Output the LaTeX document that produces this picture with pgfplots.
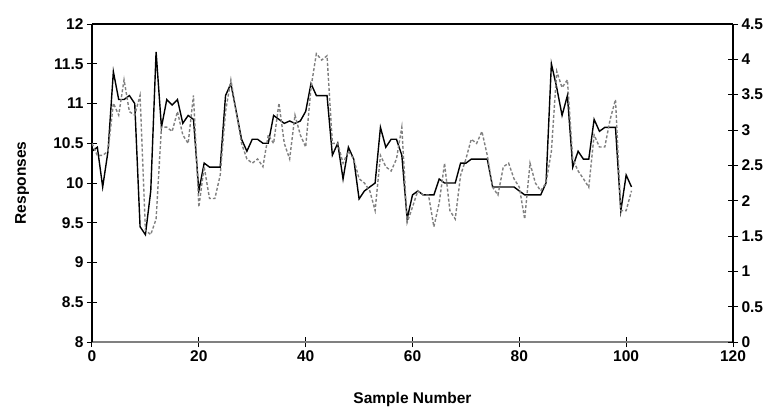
\documentclass[border=0pt]{standalone}
\usepackage{pgfplots}
\pgfplotsset{compat=1.18}
\usepackage{fontspec}
\setmainfont{Liberation Sans}
\newcommand{\lbl}{\bfseries\fontsize{15.5}{15.5}\selectfont}

\pgfplotsset{
  common/.style={
    width=641pt, height=318pt, scale only axis,
    xmin=0, xmax=120,
    enlargelimits=false,
    tick align=center,
    major tick length=10pt,
    tick style={black, line width=1pt},
    tick label style={font=\lbl},
    /pgf/number format/assume math mode=true,
    label style={font=\lbl},
  },
}

\begin{document}
\begin{tikzpicture}
\useasboundingbox (-92pt,-74pt) rectangle (684pt,342pt);

% left axis: solid series
\begin{axis}[common,
    axis x line*=bottom, axis y line*=left,
    axis line style={-},
    x axis line style={gray, line width=1.3pt},
    y axis line style={black, line width=1.3pt},
    ymin=8, ymax=12,
    xtick={0,20,...,120},
    ytick={8,8.5,...,12},
    xlabel={Sample Number},
    ylabel={Responses},
    xlabel style={at={(axis description cs:0.5,-0.182)}, anchor=center},
    ylabel style={at={(axis description cs:-0.109,0.5)}, anchor=center},
]
\addplot[black, line width=1.4pt] coordinates {
 (0,10.4) (1,10.45) (2,9.95) (3,10.4) (4,11.4) (5,11.05) (6,11.05) (7,11.1)
 (8,11.0) (9,9.45) (10,9.35) (11,9.9) (12,11.65) (13,10.7) (14,11.05) (15,10.98)
 (16,11.05) (17,10.75) (18,10.85) (19,10.8) (20,9.9) (21,10.25) (22,10.2) (23,10.2)
 (24,10.2) (25,11.1) (26,11.25) (27,10.9) (28,10.55) (29,10.4) (30,10.55) (31,10.55)
 (32,10.5) (33,10.5) (34,10.85) (35,10.8) (36,10.75) (37,10.78) (38,10.75) (39,10.78)
 (40,10.9) (41,11.25) (42,11.1) (43,11.1) (44,11.1) (45,10.35) (46,10.5) (47,10.05)
 (48,10.45) (49,10.3) (50,9.8) (51,9.9) (52,9.95) (53,10.0) (54,10.7) (55,10.45)
 (56,10.55) (57,10.55) (58,10.35) (59,9.55) (60,9.85) (61,9.9) (62,9.85) (63,9.85)
 (64,9.85) (65,10.05) (66,10.0) (67,10.0) (68,10.0) (69,10.25) (70,10.25) (71,10.3)
 (72,10.3) (73,10.3) (74,10.3) (75,9.95) (76,9.95) (77,9.95) (78,9.95) (79,9.95)
 (80,9.9) (81,9.85) (82,9.85) (83,9.85) (84,9.85) (85,10.0) (86,11.5) (87,11.2)
 (88,10.85) (89,11.1) (90,10.2) (91,10.4) (92,10.3) (93,10.3) (94,10.8) (95,10.65)
 (96,10.7) (97,10.7) (98,10.7) (99,9.65) (100,10.1) (101,9.95)
};
\end{axis}

% right axis: dashed series
\begin{axis}[common,
    axis x line*=top, axis y line*=right,
    axis line style={-, black, line width=1.3pt},
    xtick=\empty,
    ymin=0, ymax=4.5,
    ytick={0,0.5,...,4.5},
    yticklabel style={/pgf/number format/fixed},
]
\addplot[gray, line width=1.4pt, dash pattern=on 3pt off 2pt] coordinates {
 (0,2.81) (1,2.64) (2,2.64) (3,2.70) (4,3.38) (5,3.21) (6,3.71) (7,3.26)
 (8,3.21) (9,3.49) (10,1.58) (11,1.52) (12,1.74) (13,3.04) (14,3.04) (15,2.98)
 (16,3.26) (17,2.93) (18,2.81) (19,3.49) (20,1.91) (21,2.48) (22,2.03) (23,2.03)
 (24,2.36) (25,3.26) (26,3.71) (27,3.26) (28,2.81) (29,2.59) (30,2.53) (31,2.59)
 (32,2.48) (33,2.93) (34,2.81) (35,3.38) (36,2.81) (37,2.59) (38,3.21) (39,2.93)
 (40,2.76) (41,3.60) (42,4.08) (43,3.99) (44,4.05) (45,2.81) (46,2.81) (47,2.53)
 (48,2.70) (49,2.59) (50,2.31) (51,2.25) (52,2.14) (53,1.86) (54,2.64) (55,2.48)
 (56,2.42) (57,2.59) (58,3.04) (59,1.69) (60,1.91) (61,2.14) (62,2.08) (63,2.08)
 (64,1.63) (65,1.97) (66,2.53) (67,1.86) (68,1.74) (69,2.36) (70,2.59) (71,2.87)
 (72,2.81) (73,2.98) (74,2.64) (75,2.19) (76,2.08) (77,2.48) (78,2.53) (79,2.31)
 (80,2.19) (81,1.74) (82,2.53) (83,2.25) (84,2.14) (85,2.25) (86,2.70) (87,3.83)
 (88,3.60) (89,3.71) (90,2.59) (91,2.42) (92,2.31) (93,2.19) (94,2.93) (95,2.76)
 (96,2.76) (97,3.15) (98,3.43) (99,1.86) (100,1.86) (101,2.14)
};
\end{axis}
\end{tikzpicture}
\end{document}
